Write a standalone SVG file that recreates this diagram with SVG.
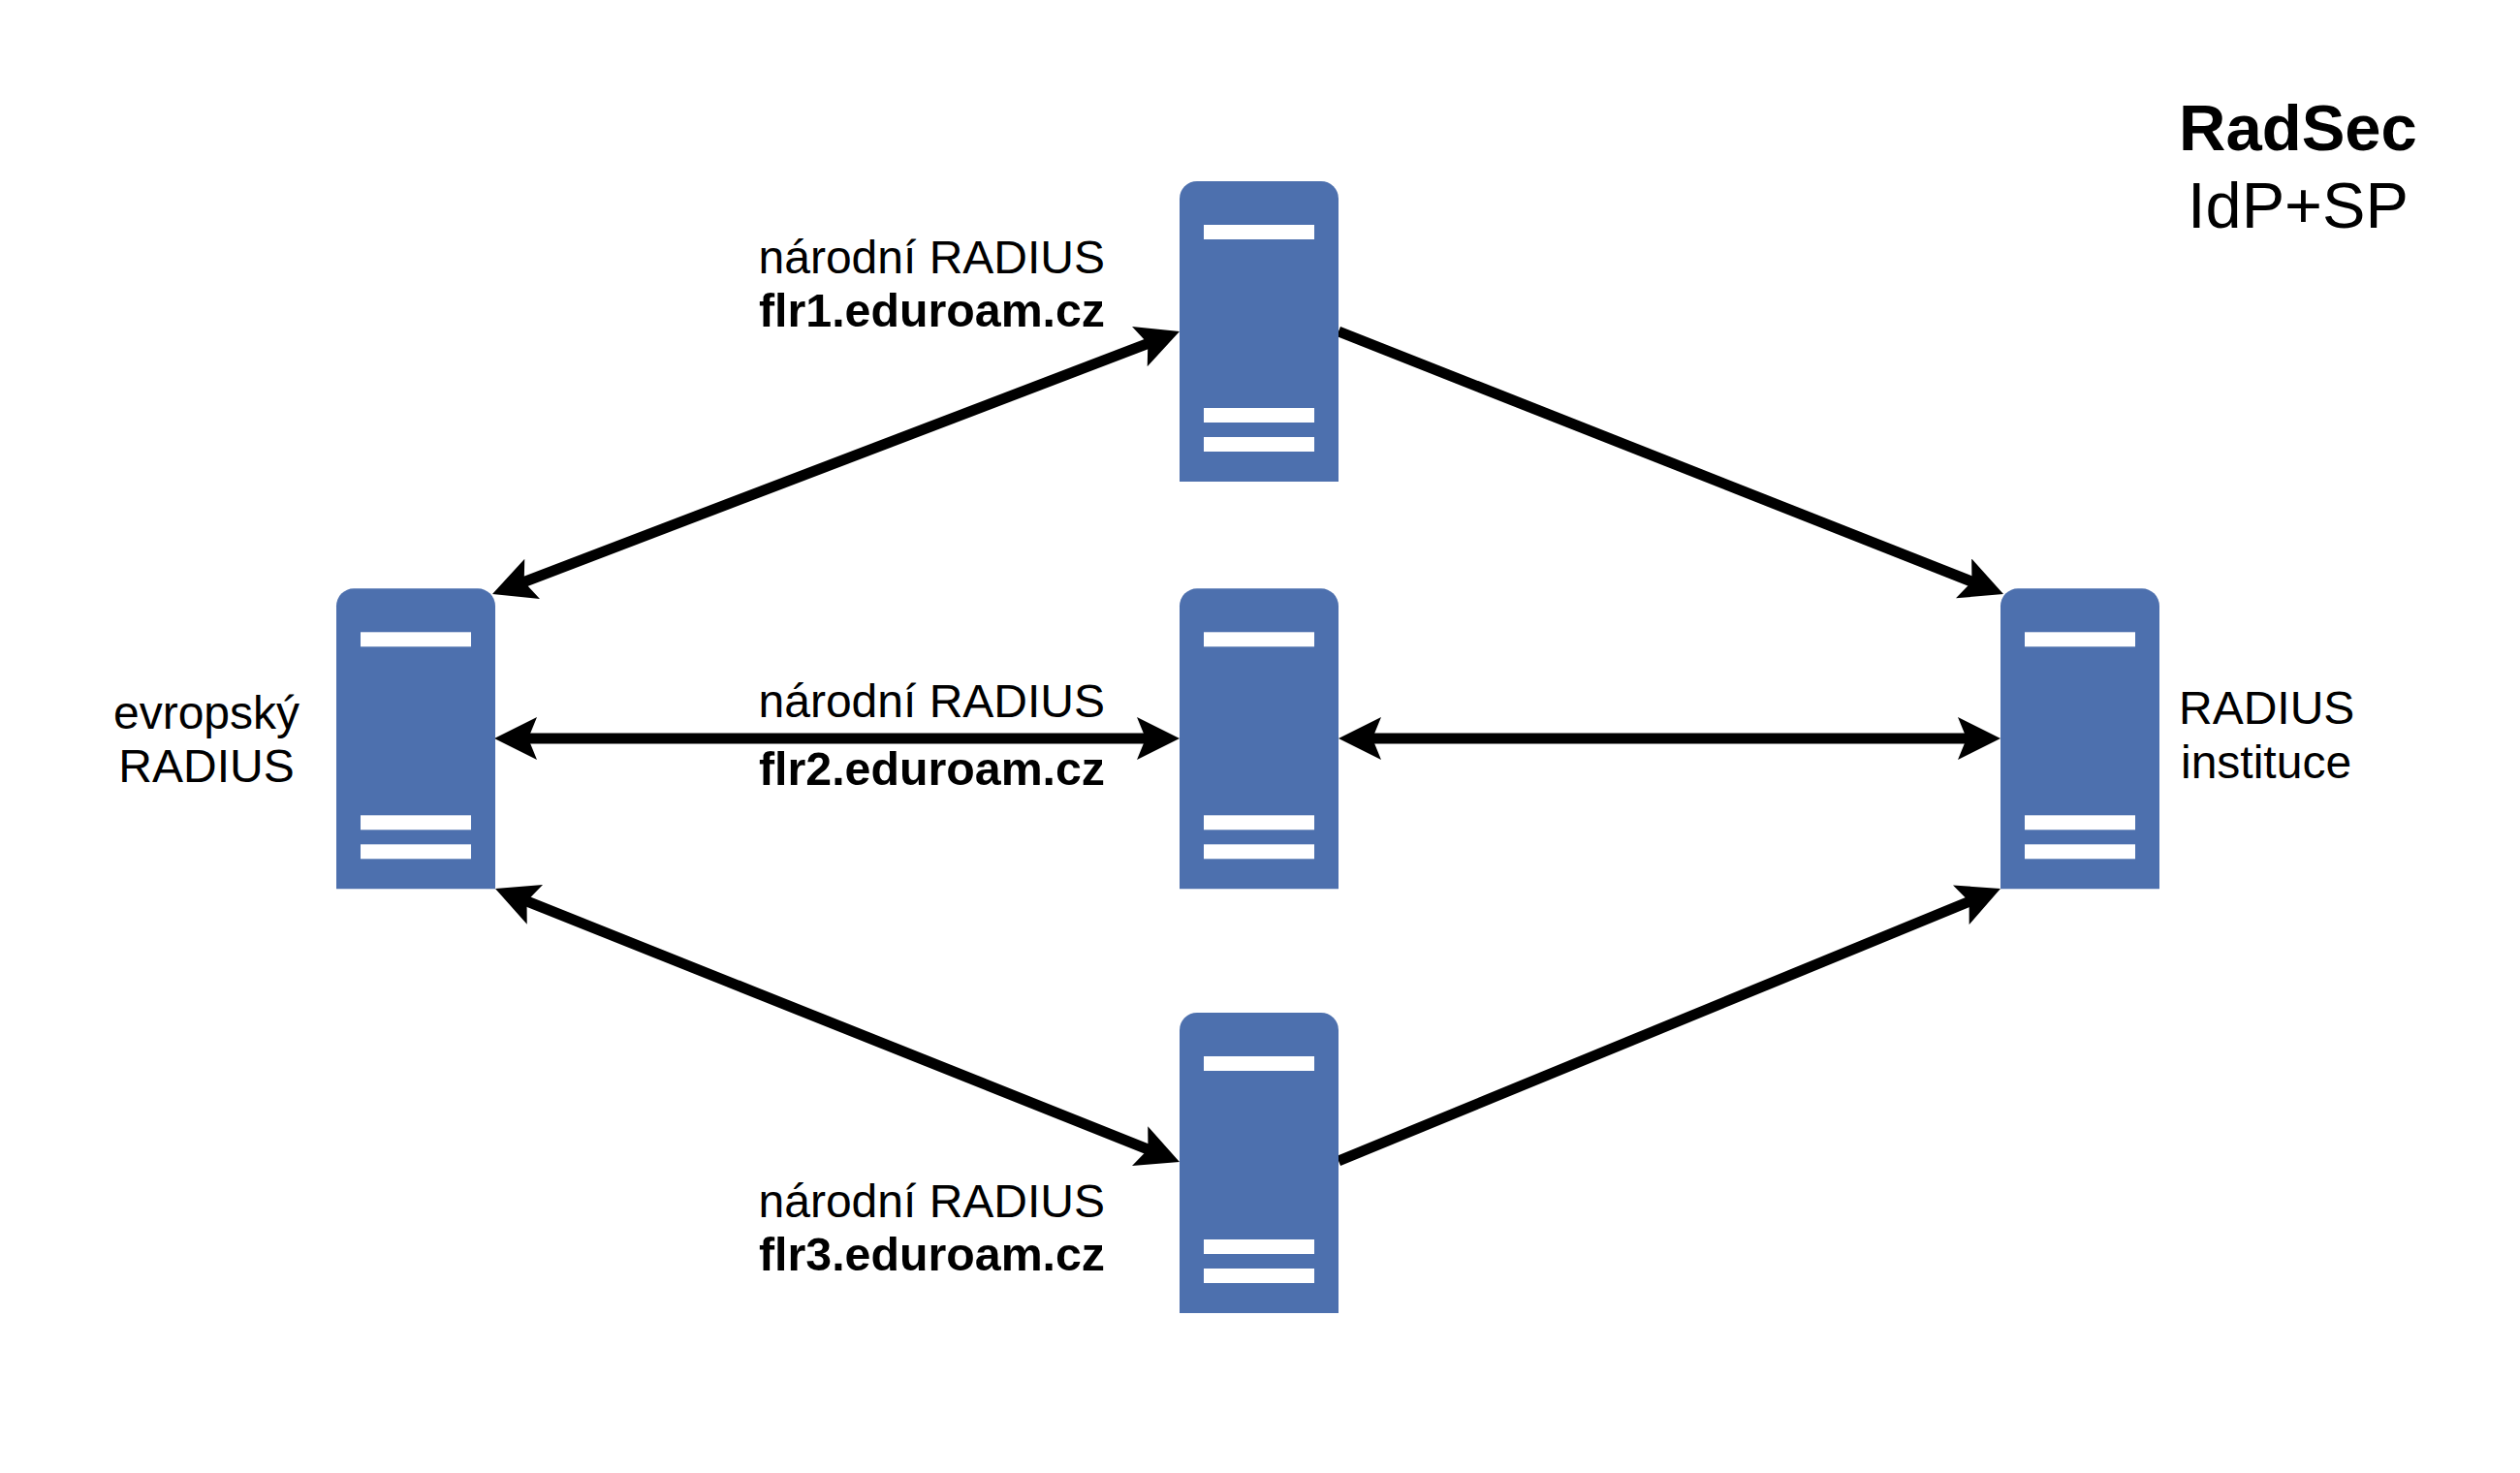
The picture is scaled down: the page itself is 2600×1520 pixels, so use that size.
<svg xmlns="http://www.w3.org/2000/svg" width="2600" height="1520" viewBox="0 0 2600 1520">
<style>
text{font-family:"Liberation Sans",Arial,sans-serif;font-size:48px;fill:#000}
.b{font-weight:bold;font-size:48.3px}
.t{font-size:66.67px;text-anchor:middle}
.t.b{font-size:67px}
.r{text-anchor:end}
.m{text-anchor:middle}
.c{fill:none;stroke:#000;stroke-width:11px;marker-start:url(#a);marker-end:url(#a)}
.e{marker-start:none}
.s{fill:#4d70ae}
.w{fill:#fff}
</style>
<defs>
<marker id="a" markerUnits="userSpaceOnUse" viewBox="0 0 44 44" refX="24" refY="22" markerWidth="44" markerHeight="44" orient="auto-start-reverse"><path d="M0 0L44 22L0 44L9 22Z" fill="#000"/></marker>
<g id="srv"><path class="s" d="M0 310V18A18 18 0 0 1 18 0H146A18 18 0 0 1 164 18V310Z"/><rect class="w" x="25" y="45" width="114" height="15"/><rect class="w" x="25" y="234" width="114" height="15"/><rect class="w" x="25" y="264" width="114" height="15"/></g>
</defs>
<rect width="2600" height="1520" fill="#fff"/>
<g id="connectors">
<path class="c" d="M526.7 605.9L1198.3 349.1"/>
<path class="c" d="M530 762H1197"/>
<path class="c" d="M529.6 924.4L1198.4 1191.6"/>
<path class="c e" d="M1381 342L2048.4 605.7"/>
<path class="c" d="M1401 762H2044"/>
<path class="c e" d="M1381 1198L2045.5 924.6"/>
</g>
<g id="node-eu"><use href="#srv" x="347" y="607.3"/><text class="m" x="213" y="752">evropský</text><text class="m" x="213" y="807">RADIUS</text></g>
<g id="node-flr1"><use href="#srv" x="1217" y="187"/><text class="r" x="1140" y="282">národní RADIUS</text><text class="r b" x="1140" y="337">flr1.eduroam.cz</text></g>
<g id="node-flr2"><use href="#srv" x="1217" y="607.3"/><text class="r" x="1140" y="740">národní RADIUS</text><text class="r b" x="1140" y="810">flr2.eduroam.cz</text></g>
<g id="node-flr3"><use href="#srv" x="1217" y="1045"/><text class="r" x="1140" y="1256">národní RADIUS</text><text class="r b" x="1140" y="1311">flr3.eduroam.cz</text></g>
<g id="node-inst"><use href="#srv" x="2064" y="607.3"/><text x="2248" y="747">RADIUS</text><text x="2250" y="803">instituce</text></g>
<g id="title"><text class="t b" x="2371" y="155">RadSec</text><text class="t" x="2371" y="235">IdP+SP</text></g>
</svg>
